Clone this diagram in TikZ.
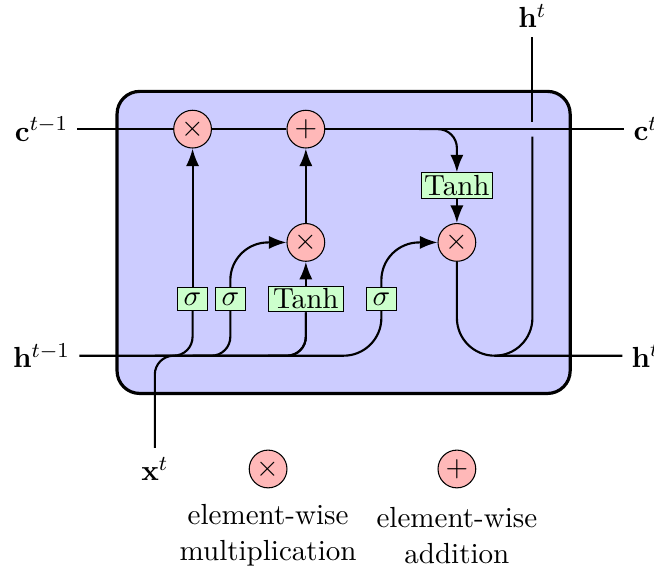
\documentclass[tikz,border=0pt]{standalone}
\usetikzlibrary{arrows.meta}
\begin{document}
\begin{tikzpicture}[
  font=\fontsize{10.95pt}{13.6pt}\selectfont,
  >=LaTeX,
  cell/.style={rectangle, rounded corners=3mm, draw, very thick, fill=blue!20},
  operator/.style={circle, draw, fill=red!28, inner sep=-0.5pt, minimum size=0.5cm},
  gatebox/.style={rectangle, draw, fill=green!20, minimum width=4mm, minimum height=3mm, inner sep=1pt},
  ArrowC1/.style={rounded corners=.25cm, thick},
  ArrowC2/.style={rounded corners=.5cm, thick},
  legendtext/.style={align=center, inner sep=0pt},
]
\useasboundingbox (-4.55,-4.32) rectangle (4.11,3.21);

% cell
\node [cell, minimum height=4cm, minimum width=6cm] (cellbox) at (0,0) {};

% gates
\node [gatebox] (ibox1) at (-2,-0.75) {$\sigma$};
\node [gatebox] (ibox2) at (-1.5,-0.75) {$\sigma$};
\node [gatebox, minimum width=1cm] (ibox3) at (-0.5,-0.75) {Tanh};
\node [gatebox] (ibox4) at (0.5,-0.75) {$\sigma$};

% operators
\node [operator] (mux1) at (-2,1.5) {$\times$};
\node [operator] (add1) at (-0.5,1.5) {$+$};
\node [operator] (mux2) at (-0.5,0) {$\times$};
\node [operator] (mux3) at (1.5,0) {$\times$};
\node [gatebox] (func1) at (1.5,0.75) {Tanh};

% external inputs / outputs
\node (c) at (-4,1.5) {$\mathbf{c}^{t-1}$};
\node (h) at (-4,-1.5) {$\mathbf{h}^{t-1}$};
\node (x) at (-2.5,-3) {$\mathbf{x}^{t}$};
\node (c2) at (4,1.5) {$\mathbf{c}^{t}$};
\node (h2) at (4,-1.5) {$\mathbf{h}^{t}$};
\node (x2) at (2.5,3) {$\mathbf{h}^{t}$};

% connections
\draw [ArrowC1] (c) -- (mux1) -- (add1) -- (c2);

\draw [ArrowC2] (h) -| (ibox4);
\draw [ArrowC1] (h -| ibox1) ++(-0.5,0) -| (ibox1);
\draw [ArrowC1] (h -| ibox2) ++(-0.5,0) -| (ibox2);
\draw [ArrowC1] (h -| ibox3) ++(-0.5,0) -| (ibox3);
\draw [ArrowC1] (x) -- (x |- h) -| (ibox3);

\draw [->, ArrowC2] (ibox1) -- (mux1);
\draw [->, ArrowC2] (ibox2) |- (mux2);
\draw [->, ArrowC2] (ibox3) -- (mux2);
\draw [->, ArrowC2] (ibox4) |- (mux3);
\draw [->, ArrowC2] (mux2) -- (add1);
\draw [->, ArrowC1] (add1 -| func1) ++(-0.5,0) -| (func1);
\draw [->, ArrowC2] (func1) -- (mux3);

\draw [ArrowC2] (mux3) |- (h2);
\coordinate (i1) at ([yshift=-0.1cm] c2 -| x2);
\coordinate (i2) at ([yshift=0.1cm] c2 -| x2);
\coordinate (u1) at ([xshift=-0.5cm] h2 -| x2);
\draw [ArrowC2] (u1) -| (i1);
\draw [ArrowC2] (i2) -- (x2);

% legend
\node [operator] (mulleg) at (-1,-3) {$\times$};
\node [operator] (addleg) at (1.5,-3) {$+$};
\node [legendtext] (multext) at (-1,-3.88) {element-wise\\multiplication};
\node [legendtext] (addtext) at (1.5,-3.88) {element-wise\\addition};
\end{tikzpicture}
\end{document}
